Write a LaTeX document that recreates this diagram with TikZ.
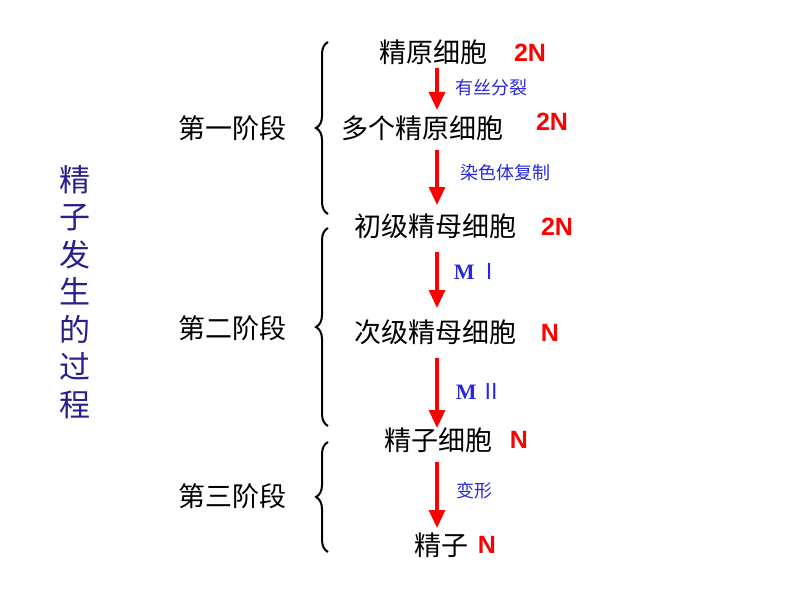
\documentclass[tikz,border=0pt]{standalone}
\usepackage{fontspec}
\setmainfont{Liberation Sans}
\newfontfamily\cjk{Noto Sans CJK SC}
\newfontfamily\serifb{Liberation Serif}
\usetikzlibrary{arrows.meta,decorations.pathreplacing}
\definecolor{ttl}{RGB}{40,30,140}
\definecolor{lbl}{RGB}{40,40,220}
\begin{document}
\begin{tikzpicture}[x=1pt,y=-1pt,
  cell/.style={font=\cjk\fontsize{27}{27}\selectfont,inner sep=0pt},
  ploid/.style={font=\bfseries\fontsize{25}{25}\selectfont,text=red,inner sep=0pt},
  lab/.style={font=\cjk\fontsize{18}{18}\selectfont,text=lbl,inner sep=0pt},
  mlab/.style={font=\serifb\bfseries\fontsize{22}{22}\selectfont,text=lbl,inner sep=0pt},
  stage/.style={font=\cjk\fontsize{27}{27}\selectfont,inner sep=0pt},
  flow/.style={red,line width=3.2pt,-{Triangle[width=16pt,length=18pt]}},
  br/.style={decorate,decoration={brace,amplitude=12pt,mirror},line width=2pt}]
\useasboundingbox (0,0) rectangle (794,596);
\node[cell] (c1) at (433,52) {精原细胞};
\node[ploid] (p1) at (530,53) {2N};
\node[cell] (c2) at (422,128) {多个精原细胞};
\node[ploid] (p2) at (552,122) {2N};
\node[cell] (c3) at (435,226) {初级精母细胞};
\node[ploid] (p3) at (557,227) {2N};
\node[cell] (c4) at (435,332) {次级精母细胞};
\node[ploid] (p4) at (550,333) {N};
\node[cell] (c5) at (438,440) {精子细胞};
\node[ploid] (p5) at (519,440) {N};
\node[cell] (c6) at (441,545) {精子};
\node[ploid] (p6) at (487,545) {N};
\coordinate (a1s) at (437,68); \coordinate (a1e) at (437,110);
\coordinate (a2s) at (437,150); \coordinate (a2e) at (437,205);
\coordinate (a3s) at (437,252); \coordinate (a3e) at (437,308);
\coordinate (a4s) at (437,358); \coordinate (a4e) at (437,428);
\coordinate (a5s) at (437,462); \coordinate (a5e) at (437,528);
\draw[flow] (a1s) -- (a1e);
\draw[flow] (a2s) -- (a2e);
\draw[flow] (a3s) -- (a3e);
\draw[flow] (a4s) -- (a4e);
\draw[flow] (a5s) -- (a5e);
\node[lab] (l1) at (491,88) {有丝分裂};
\node[lab] (l2) at (505,173) {染色体复制};
\node[mlab] (l3) at (477,271) {M\,{\cjk\mdseries Ⅰ}};
\node[mlab] (l4) at (479,391) {M\,{\cjk\mdseries Ⅱ}};
\node[lab] (l5) at (474,491) {变形};
\node[stage] (s1) at (232,128) {第一阶段};
\node[stage] (s2) at (232,328) {第二阶段};
\node[stage] (s3) at (232,496) {第三阶段};
\coordinate (b1t) at (328,42); \coordinate (b1b) at (328,214);
\coordinate (b2t) at (328,228); \coordinate (b2b) at (328,426);
\coordinate (b3t) at (328,442); \coordinate (b3b) at (328,552);
\draw[br] (b1t) -- (b1b);
\draw[br] (b2t) -- (b2b);
\draw[br] (b3t) -- (b3b);
\node[font=\cjk\fontsize{31}{37.5}\selectfont,text=ttl,align=center,inner sep=0pt] (title) at (75,292) {精\\子\\发\\生\\的\\过\\程};
\end{tikzpicture}
\end{document}
